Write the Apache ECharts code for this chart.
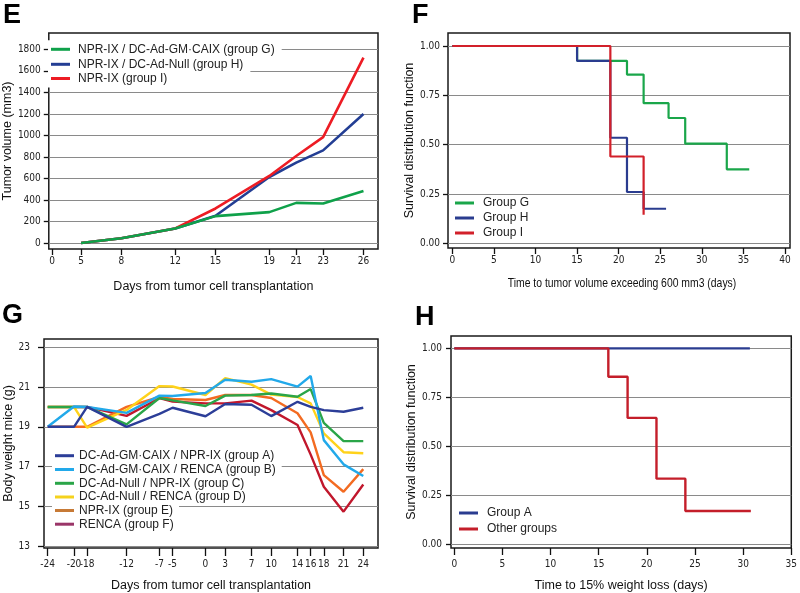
<!DOCTYPE html>
<html><head><meta charset="utf-8">
<script src="https://cdn.jsdelivr.net/npm/echarts@6/dist/echarts.min.js"></script>
<style>html,body{margin:0;padding:0;background:#fff}#c{width:800px;height:593px}</style>
</head><body><div id="c"></div>
<script>
// ---------- Panel E: tumor volume ----------
const eDays = [5, 8, 12, 15, 19, 21, 23, 26];
const eGroupG = [3, 46, 138, 252, 289, 375, 369, 486];
const eGroupH = [3, 46, 138, 255, 615, 748, 862, 1200];
const eGroupI = [3, 46, 138, 323, 625, 810, 985, 1723];
const eXTicks = [0, 5, 8, 12, 15, 19, 21, 23, 26];
const eYTicks = [0, 200, 400, 600, 800, 1000, 1200, 1400, 1600, 1800];
const eNames = ['NPR-IX / DC-Ad-GM·CAIX (group G)', 'NPR-IX / DC-Ad-Null (group H)', 'NPR-IX (group I)'];

// ---------- Panel F: survival (tumor volume > 600 mm3) ----------
const fGroupGx = [0, 15, 21, 23, 26, 28, 33, 35.7];
const fGroupGy = [1, 0.925, 0.855, 0.71, 0.635, 0.505, 0.375, 0.375];
const fGroupHx = [0, 15, 19, 21, 23, 25.7];
const fGroupHy = [1, 0.925, 0.535, 0.26, 0.175, 0.175];
const fGroupIx = [0, 19, 23];
const fGroupIy = [1, 0.44, 0.145];
const fXTicks = [0, 5, 10, 15, 20, 25, 30, 35, 40];
const fYTicks = [0, 0.25, 0.5, 0.75, 1];
const fNames = ['Group G', 'Group H', 'Group I'];

// ---------- Panel G: body weight ----------
const gDays = [-24, -20, -18, -12, -7, -5, 0, 3, 7, 10, 14, 16, 18, 21, 24];
const gGroupA = [19.0, 19.0, 20.0, 19.0, 19.65, 19.96, 19.53, 20.15, 20.11, 19.54, 20.26, 20.0, 19.84, 19.76, 19.96];
const gGroupB = [19.0, 20.02, 20.0, 19.7, 20.57, 20.55, 20.7, 21.37, 21.27, 21.4, 21.02, 21.56, 18.33, 17.11, 16.52];
const gGroupC = [20.0, 20.0, 20.0, 19.12, 20.45, 20.33, 20.05, 20.57, 20.6, 20.68, 20.51, 20.9, 19.2, 18.28, 18.28];
const gGroupD = [20.0, 20.0, 18.96, 19.85, 21.05, 21.03, 20.6, 21.45, 21.12, 20.62, 20.5, 20.18, 18.67, 17.72, 17.67];
const gGroupE = [19.0, 19.0, 19.0, 20.0, 20.5, 20.4, 20.35, 20.6, 20.6, 20.45, 19.68, 18.72, 16.57, 15.73, 16.87];
const gGroupF = [20.0, 20.0, 20.0, 19.55, 20.44, 20.27, 20.18, 20.18, 20.32, 19.84, 19.09, 17.6, 15.98, 14.73, 16.1];
const gYTicks = [13, 15, 17, 19, 21, 23];
const gNames = ['DC-Ad-GM·CAIX / NPR-IX (group A)', 'DC-Ad-GM·CAIX / RENCA (group B)', 'DC-Ad-Null / NPR-IX (group C)',
  'DC-Ad-Null / RENCA (group D)', 'NPR-IX (group E)', 'RENCA (group F)'];

// ---------- Panel H: survival (15% weight loss) ----------
const hGroupAx = [0, 30.7];
const hGroupAy = [1, 1];
const hOtherx = [0, 16, 18, 21, 24, 30.8];
const hOthery = [1, 0.855, 0.645, 0.335, 0.17, 0.17];
const hXTicks = [0, 5, 10, 15, 20, 25, 30, 35];
const hYTicks = [0, 0.25, 0.5, 0.75, 1];
const hNames = ['Group A', 'Other groups'];

const NARROW = '"Liberation Sans Narrow","Arial Narrow","DejaVu Sans Condensed",sans-serif';
const SANS = '"Liberation Sans",Arial,Helvetica,sans-serif';
const zip = (xs, ys) => xs.map((x, i) => [x, ys[i]]);

function xAx(gi, min, max, ticks, tickLen, margin, name, nameGap, nameFont, fmt) {
  return {
    type: 'value', gridIndex: gi, min, max,
    axisLine: { show: false, onZero: false }, splitLine: { show: false },
    axisTick: { show: true, inside: false, length: tickLen, customValues: ticks, lineStyle: { color: '#111', width: 1.3 } },
    axisLabel: { customValues: ticks, margin, color: '#222', fontFamily: NARROW, fontSize: 10, formatter: fmt || (v => String(v)) },
    name, nameLocation: 'middle', nameGap,
    nameTextStyle: { fontFamily: nameFont.f, fontSize: nameFont.s, color: '#111' }
  };
}
function yAx(gi, min, max, ticks, tickLen, margin, name, nameGap, fmt) {
  return {
    type: 'value', gridIndex: gi, min, max,
    axisLine: { show: false, onZero: false }, splitLine: { show: false },
    axisTick: { show: true, inside: false, length: tickLen, customValues: ticks, lineStyle: { color: '#111', width: 1.3 } },
    axisLabel: { customValues: ticks, margin, color: '#222', fontFamily: NARROW, fontSize: 10, formatter: fmt || (v => String(v)) },
    name, nameLocation: 'middle', nameGap,
    nameTextStyle: { fontFamily: SANS, fontSize: 12.5, color: '#111' }
  };
}
function gridLines(gi, vals) {
  return {
    type: 'line', name: '_grid' + gi, xAxisIndex: gi, yAxisIndex: gi, data: [], z: 1, silent: true,
    markLine: {
      z: 1, silent: true, symbol: 'none', label: { show: false }, animation: false,
      lineStyle: { color: '#8a8a8a', width: 1.1, type: 'solid' },
      data: vals.map(v => ({ yAxis: v }))
    }
  };
}
function lineS(gi, name, data, color, width, step, z) {
  return {
    type: 'line', name, xAxisIndex: gi, yAxisIndex: gi, data, showSymbol: false, symbol: 'none',
    step: step || false, z: z || 3,
    lineStyle: { color, width }, itemStyle: { color }
  };
}
function itemLegend(name, left, centerY, color, pad, txtPad) {
  return {
    left, top: centerY - 7 - 2, orient: 'horizontal', selectedMode: false, z: 10,
    backgroundColor: '#fff', padding: [2, pad, 2, 3], borderWidth: 0,
    icon: 'rect', itemWidth: 19, itemHeight: 3, itemGap: 0,
    textStyle: { fontFamily: SANS, fontSize: 12, color: '#222', lineHeight: 14, padding: [0, 0, 0, txtPad] },
    data: [{ name, itemStyle: { color } }]
  };
}

const cE = ['#0fa14a', '#233e94', '#ed1c24'];
const cF = ['#1aa64a', '#2a3c8f', '#d2202a'];
const cG = ['#2c3e98', '#22a9ea', '#2aa548', '#ffd21a', '#f36b21', '#c1172c'];
const cGLeg = ['#2c3e98', '#22a9ea', '#2aa548', '#f5d21d', '#c77a36', '#9a3568'];
const cH = ['#2a3c90', '#c41e2a'];

const legends = [];
const eCenters = [49.3, 64.3, 78.5];
eNames.forEach((n, i) => legends.push(itemLegend(n, 48, eCenters[i], cE[i], 7, 3)));
const gCenters = [455.7, 469.5, 483.3, 497, 510.5, 524.2];
gNames.forEach((n, i) => legends.push(itemLegend(n, 52, gCenters[i], cGLeg[i], 6, 0)));
legends.push({
  left: 452, top: 194, orient: 'vertical', selectedMode: false, padding: [2, 4, 2, 3],
  icon: 'rect', itemWidth: 19, itemHeight: 3, itemGap: 1,
  textStyle: { fontFamily: SANS, fontSize: 12, color: '#222', lineHeight: 14, padding: [0, 0, 0, 4] },
  data: fNames.map((n, i) => ({ name: n, itemStyle: { color: cF[i] } }))
});
legends.push({
  left: 456, top: 504, orient: 'vertical', selectedMode: false, padding: [2, 4, 2, 3],
  icon: 'rect', itemWidth: 19, itemHeight: 3, itemGap: 2,
  textStyle: { fontFamily: SANS, fontSize: 12, color: '#222', lineHeight: 14, padding: [0, 0, 0, 4] },
  data: hNames.map((n, i) => ({ name: n, itemStyle: { color: cH[i] } }))
});

const fmt2 = v => v.toFixed(2);
const gridBase = { show: true, borderColor: '#1a1a1a', borderWidth: 1.5, backgroundColor: 'transparent' };

const xE = xAx(0, -0.24, 27.08, eXTicks, 6, 7, 'Days from tumor cell transplantation', 31, { f: SANS, s: 12.5 });
// compressed start of the day axis (0 → 5), as in the original figure
xE.breaks = [{ start: 0.5, end: 4.5, gap: 1.16 }];
xE.breakArea = { show: false, itemStyle: { opacity: 0 } };

const option = {
  animation: false,
  backgroundColor: '#fff',
  grid: [
    Object.assign({ left: 45, top: 33, width: 333, height: 216 }, gridBase),
    Object.assign({ left: 448, top: 33, width: 342, height: 215 }, gridBase),
    Object.assign({ left: 44, top: 339, width: 334, height: 209 }, gridBase),
    Object.assign({ left: 451, top: 336, width: 345, height: 212 }, gridBase)
  ],
  xAxis: [
    xE,
    xAx(1, -0.52, 40.6, fXTicks, 6, 7, '', 28, { f: NARROW, s: 13 }),
    xAx(2, -24.56, 26.24, gDays, 8, 11, 'Days from tumor cell transplantation', 31, { f: SANS, s: 12.5 }),
    xAx(3, -0.34, 35, hXTicks, 7, 11, 'Time to 15% weight loss (days)', 31, { f: SANS, s: 12.5 })
  ],
  yAxis: [
    yAx(0, -53, 1951, eYTicks, 5, 8, 'Tumor volume (mm3)', 29),
    yAx(1, -0.024, 1.066, fYTicks, 5, 8, 'Survival distribution function', 31, fmt2),
    yAx(2, 12.9, 23.42, gYTicks, 6, 14, 'Body weight mice (g)', 28),
    yAx(3, -0.019, 1.063, hYTicks, 5, 9, 'Survival distribution function', 31, fmt2)
  ],
  legend: legends,
  series: [
    gridLines(0, eYTicks), gridLines(1, fYTicks), gridLines(2, gYTicks), gridLines(3, hYTicks),
    lineS(0, eNames[1], zip(eDays, eGroupH), cE[1], 2.6),
    lineS(0, eNames[2], zip(eDays, eGroupI), cE[2], 2.6),
    lineS(0, eNames[0], zip(eDays, eGroupG), cE[0], 2.6),
    lineS(1, fNames[0], zip(fGroupGx, fGroupGy), cF[0], 2.2, 'end'),
    lineS(1, fNames[1], zip(fGroupHx, fGroupHy), cF[1], 2.2, 'end'),
    lineS(1, fNames[2], zip(fGroupIx, fGroupIy), cF[2], 2.2, 'end'),
    lineS(2, gNames[5], zip(gDays, gGroupF), cG[5], 2.4),
    lineS(2, gNames[4], zip(gDays, gGroupE), cG[4], 2.4),
    lineS(2, gNames[3], zip(gDays, gGroupD), cG[3], 2.4),
    lineS(2, gNames[2], zip(gDays, gGroupC), cG[2], 2.4),
    lineS(2, gNames[1], zip(gDays, gGroupB), cG[1], 2.4),
    lineS(2, gNames[0], zip(gDays, gGroupA), cG[0], 2.4),
    lineS(3, hNames[0], zip(hGroupAx, hGroupAy), cH[0], 2.4, 'end'),
    lineS(3, hNames[1], zip(hOtherx, hOthery), cH[1], 2.4, 'end')
  ],
  graphic: [
    { type: 'text', left: 3, top: 2, style: { text: 'E', font: 'bold 27px ' + SANS, fill: '#000' } },
    { type: 'text', left: 412, top: 2, style: { text: 'F', font: 'bold 27px ' + SANS, fill: '#000' } },
    { type: 'text', left: 2, top: 302, style: { text: 'G', font: 'bold 27px ' + SANS, fill: '#000' } },
    { type: 'text', left: 415, top: 304, style: { text: 'H', font: 'bold 27px ' + SANS, fill: '#000' } },
    { type: 'text', x: 622, y: 283, scaleX: 0.8, z: 10,
      style: { text: 'Time to tumor volume exceeding 600 mm3 (days)', font: '13px ' + SANS, fill: '#111', align: 'center', verticalAlign: 'middle' } }
  ]
};

const chart = echarts.init(document.getElementById('c'), null, { renderer: 'canvas' });
chart.setOption(option);
</script>
</body></html>
